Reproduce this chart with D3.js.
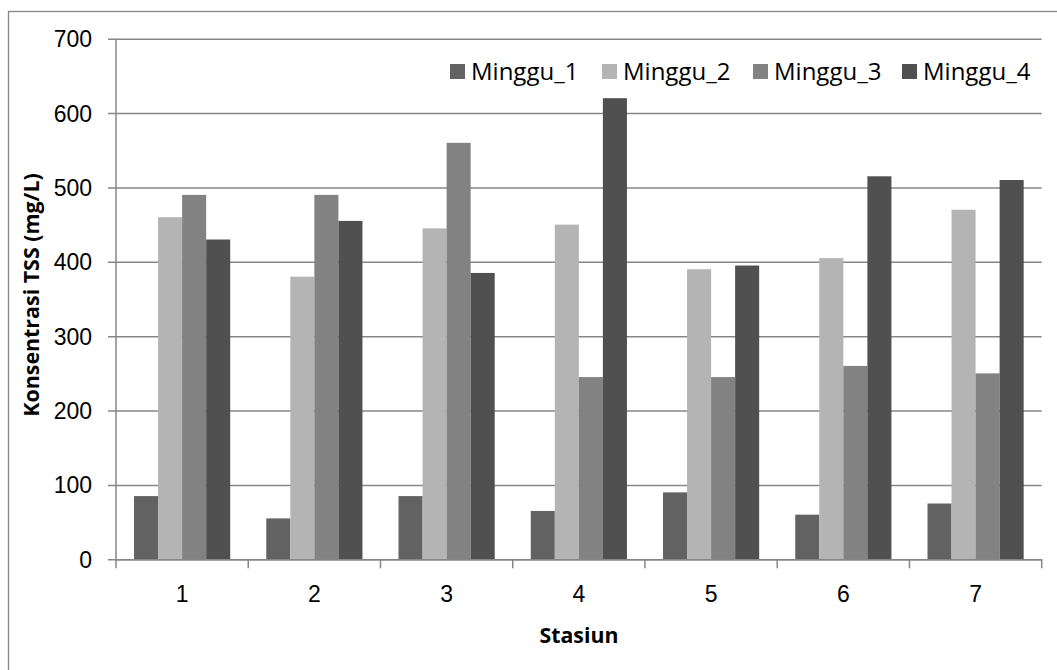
<!DOCTYPE html>
<html>
<head>
<meta charset="utf-8">
<script src="https://cdn.jsdelivr.net/npm/d3@7"></script>
<style>
  html, body { margin: 0; padding: 0; background: #fff; }
  svg { display: block; font-family: "Open Sans", "Noto Sans", sans-serif; }
</style>
</head>
<body>
<svg id="chart" width="1057" height="670"></svg>
<script>
// Stations on the x axis
const stations = ["1", "2", "3", "4", "5", "6", "7"];
// Weekly series
const seriesNames = ["Minggu_1", "Minggu_2", "Minggu_3", "Minggu_4"];
const minggu1 = [85, 55, 85, 65, 90, 60, 75];
const minggu2 = [460, 380, 445, 450, 390, 405, 470];
const minggu3 = [490, 490, 560, 245, 245, 260, 250];
const minggu4 = [430, 455, 385, 620, 395, 515, 510];
const yTicks = [0, 100, 200, 300, 400, 500, 600, 700];
const seriesColors = ["#626262", "#b4b4b4", "#828282", "#505050"];

const seriesValues = [minggu1, minggu2, minggu3, minggu4];
const rows = stations.map((s, i) => ({
  station: s,
  values: seriesNames.map((n, k) => ({ name: n, value: seriesValues[k][i] }))
}));

const svg = d3.select("#chart");
const plot = { left: 116, right: 1041.7, top: 38.7, bottom: 559.3 };
const gridColor = "#868686";

// Outer chart frame
svg.append("rect")
  .attr("x", 8.5).attr("y", 11.5)
  .attr("width", 1100).attr("height", 700)
  .attr("fill", "none").attr("stroke", "#878787").attr("stroke-width", 1.3);

const x = d3.scaleBand().domain(stations).range([plot.left, plot.right]).paddingInner(0).paddingOuter(0);
const xInner = d3.scaleBand().domain(seriesNames).range([0, x.bandwidth()]).paddingInner(0).paddingOuter(0.75);
const y = d3.scaleLinear().domain([0, 700]).range([plot.bottom, plot.top]);

// Horizontal gridlines with outward ticks
const yAxis = svg.append("g")
  .attr("transform", `translate(${plot.left},0)`)
  .call(d3.axisLeft(y).tickValues(yTicks).tickSize(-(plot.right - plot.left)).tickSizeOuter(0).tickPadding(24));
yAxis.select(".domain").remove();
yAxis.selectAll(".tick line").attr("stroke", gridColor).attr("stroke-width", 1.5).attr("x1", -8);
yAxis.selectAll(".tick text")
  .attr("font-size", 23).attr("fill", "#000")
  .attr("dy", "0.35em");

// Bars
const groups = svg.append("g").selectAll("g").data(rows).join("g")
  .attr("transform", d => `translate(${x(d.station)},0)`);
groups.selectAll("rect").data(d => d.values).join("rect")
  .attr("x", d => xInner(d.name))
  .attr("width", xInner.bandwidth())
  .attr("y", d => y(d.value))
  .attr("height", d => y(0) - y(d.value))
  .attr("fill", (d, i) => seriesColors[i]);

// Vertical axis line
svg.append("line")
  .attr("x1", plot.left).attr("x2", plot.left)
  .attr("y1", plot.top).attr("y2", plot.bottom)
  .attr("stroke", gridColor).attr("stroke-width", 1.5);

// Category axis
const xAxis = svg.append("g")
  .attr("transform", `translate(0,${plot.bottom})`)
  .call(d3.axisBottom(x).tickSize(0).tickPadding(26));
xAxis.select(".domain").attr("stroke", gridColor).attr("stroke-width", 1.5);
xAxis.selectAll(".tick text").attr("font-size", 23).attr("fill", "#000");
// Boundary tick marks between categories
const bounds = stations.map(s => x(s)).concat([plot.right]);
xAxis.selectAll("line.bound").data(bounds).join("line")
  .attr("class", "bound")
  .attr("x1", d => d).attr("x2", d => d)
  .attr("y1", 0).attr("y2", 9)
  .attr("stroke", gridColor).attr("stroke-width", 1.5);

// Legend
const legendX = [450, 602, 753, 902];
const legend = svg.append("g").selectAll("g").data(seriesNames).join("g")
  .attr("transform", (d, i) => `translate(${legendX[i]},71)`);
legend.append("rect")
  .attr("x", 0).attr("y", -7).attr("width", 15).attr("height", 15)
  .attr("fill", (d, i) => seriesColors[i]);
legend.append("text")
  .attr("x", 21).attr("y", 9)
  .attr("font-size", 24).attr("fill", "#000")
  .text(d => d);

// Axis titles
svg.append("text")
  .attr("transform", "translate(38.5,295) rotate(-90)")
  .attr("text-anchor", "middle")
  .attr("font-size", 21.4).attr("font-weight", "bold").attr("fill", "#000")
  .text("Konsentrasi TSS (mg/L)");
svg.append("text")
  .attr("x", 579).attr("y", 643)
  .attr("text-anchor", "middle")
  .attr("font-size", 21.3).attr("font-weight", "bold").attr("fill", "#000")
  .text("Stasiun");
</script>
</body>
</html>
